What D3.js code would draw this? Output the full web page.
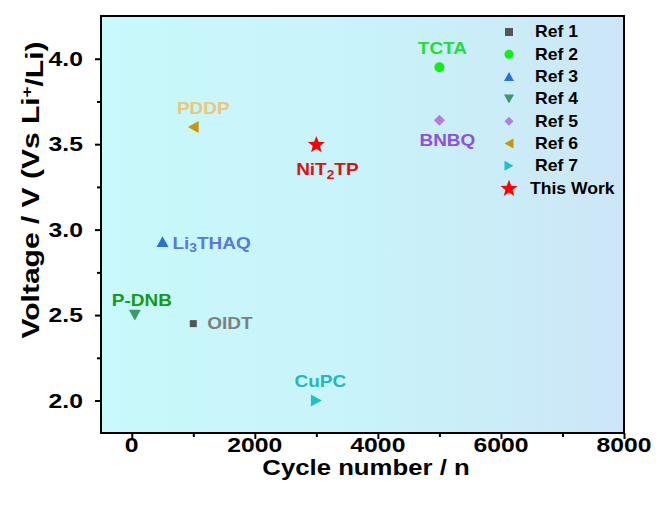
<!DOCTYPE html>
<html><head><meta charset="utf-8">
<script src="https://cdn.jsdelivr.net/npm/d3@7"></script>
<style>
body{margin:0;background:#fff;}
</style></head>
<body><svg id="c" width="659" height="509"></svg>
<script>
// ---- data ----
const refs = ["Ref 1","Ref 2","Ref 3","Ref 4","Ref 5","Ref 6","Ref 7","This Work"];
const materials = ["OIDT","TCTA","Li3THAQ","P-DNB","BNBQ","PDDP","CuPC","NiT2TP"];
const cycles = [1000, 5000, 500, 50, 5000, 1000, 3000, 3000];
const voltages = [2.45, 3.95, 2.93, 2.5, 3.64, 3.6, 2.0, 3.5];
const xTicks = [0, 2000, 4000, 6000, 8000];
const xMinorTicks = [1000, 3000, 5000, 7000];
const yTicks = [2.0, 2.5, 3.0, 3.5, 4.0];
const yMinorTicks = [2.25, 2.75, 3.25, 3.75];

// ---- styles ----
const FONT = "Liberation Sans, Arial, sans-serif";
const markerColors = ["#555555","#11ee11","#2a6fd8","#3a9a6a","#b07fdc","#c8960a","#1fc0c8","#ff0000"];
const labelColors  = ["#7f7f7f","#22dd33","#5a78dd","#159a1a","#9050d8","#ecc680","#22b8bc","#dd1111"];
const symbolTypes  = ["square","circle","up","down","diamond","left","right","star"];
const markerSizes  = [7, 10, 12, 12, 11, 12, 12, 18];
const legendSizes  = [8, 9, 10, 10, 9, 10, 10, 18];
// label pixel offsets [dx, dy, anchor]
const labelOffsets = [[14,-1,"start"],[3,-19,"middle"],[10,1,"start"],[7,-15,"middle"],[8,20,"middle"],[10,-19,"middle"],[4,-20,"middle"],[11,25,"middle"]];

const svg = d3.select("#c");
const m = {l:101, r:624, t:16, b:433};
const x = d3.scaleLinear().domain([-500, 8000]).range([m.l, m.r]);
const y = d3.scaleLinear().domain([1.81, 4.25]).range([m.b, m.t]);

function stretch(sel, sx){
  sel.each(function(){
    const t = d3.select(this);
    const tx = +t.attr("x") || 0, ty = +t.attr("y") || 0;
    t.attr("transform", `translate(${tx},${ty}) scale(${sx},1) translate(${-tx},${-ty})`);
  });
}
function txt(parent){
  return parent.append("text").attr("font-family",FONT).attr("font-weight","bold");
}

const defs = svg.append("defs");
const g = defs.append("linearGradient").attr("id","bg").attr("x1","0").attr("x2","1").attr("y1","0").attr("y2","0");
g.append("stop").attr("offset","0").attr("stop-color","#c8f9fb");
g.append("stop").attr("offset","0.5").attr("stop-color","#c8f3fa");
g.append("stop").attr("offset","1").attr("stop-color","#cde6f7");
svg.append("rect").attr("x",m.l).attr("y",m.t).attr("width",m.r-m.l).attr("height",m.b-m.t).attr("fill","url(#bg)");

function symPath(type, s){
  const h = s/2;
  switch(type){
    case "square": return `M${-h},${-h}H${h}V${h}H${-h}Z`;
    case "circle": return d3.symbol(d3.symbolCircle, Math.PI*h*h)();
    case "up": return `M0,${-h*0.9}L${h},${h*0.9}L${-h},${h*0.9}Z`;
    case "down": return `M0,${h*0.9}L${h},${-h*0.9}L${-h},${-h*0.9}Z`;
    case "left": return `M${-h*0.9},0L${h*0.9},${-h}L${h*0.9},${h}Z`;
    case "right": return `M${h*0.9},0L${-h*0.9},${-h}L${-h*0.9},${h}Z`;
    case "diamond": return `M0,${-h}L${h},0L0,${h}L${-h},0Z`;
    case "star": {
      let p=[]; for(let i=0;i<10;i++){const r=i%2?h*0.42:h; const a=-Math.PI/2+i*Math.PI/5; p.push([r*Math.cos(a), r*Math.sin(a)+h*0.08]);}
      return "M"+p.map(d=>d.join(",")).join("L")+"Z";
    }
  }
}

// axes (tick marks via d3 axis, labels drawn explicitly)
function styleAxis(sel){
  sel.select(".domain").remove();
  sel.selectAll(".tick line").attr("stroke","#000").attr("stroke-width",2);
  sel.selectAll(".tick text").remove();
}
svg.append("g").attr("transform",`translate(0,${m.b})`)
  .call(d3.axisBottom(x).tickValues(xTicks).tickSize(6).tickFormat("")).call(styleAxis);
svg.append("g").attr("transform",`translate(0,${m.b})`)
  .call(d3.axisBottom(x).tickValues(xMinorTicks).tickSize(4).tickFormat("")).call(styleAxis);
svg.append("g").attr("transform",`translate(${m.l},0)`)
  .call(d3.axisLeft(y).tickValues(yTicks).tickSize(6).tickFormat("")).call(styleAxis);
svg.append("g").attr("transform",`translate(${m.l},0)`)
  .call(d3.axisLeft(y).tickValues(yMinorTicks).tickSize(4).tickFormat("")).call(styleAxis);

const fx = d3.format("d"), fy = d3.format(".1f");
const xl = svg.append("g");
xTicks.forEach(v=>{
  txt(xl).attr("x",x(v)).attr("y",m.b+19).attr("text-anchor","middle").attr("font-size","19.5px").attr("fill","#000").text(fx(v)).call(stretch,1.27);
});
const yl = svg.append("g");
yTicks.forEach(v=>{
  txt(yl).attr("x",m.l-18).attr("y",y(v)+7).attr("text-anchor","end").attr("font-size","19.5px").attr("fill","#000").text(fy(v)).call(stretch,1.27);
});

svg.append("rect").attr("x",m.l).attr("y",m.t).attr("width",m.r-m.l).attr("height",m.b-m.t)
  .attr("fill","none").attr("stroke","#000").attr("stroke-width",2);

// titles
txt(svg).attr("x",366).attr("y",475).attr("text-anchor","middle").attr("font-size","22px").attr("fill","#000")
  .text("Cycle number / n").call(stretch,1.17);
const yt = txt(svg).attr("transform",`translate(39,190) rotate(-90) scale(1.25,1)`).attr("text-anchor","middle").attr("font-size","24px").attr("fill","#000");
yt.append("tspan").text("Voltage / V (Vs Li");
yt.append("tspan").attr("dy","-0.45em").attr("font-size","15px").text("+");
yt.append("tspan").attr("dy","0.45em").text("/Li)");

// points
const pts = svg.append("g");
refs.forEach((r,i)=>{
  pts.append("path").attr("d",symPath(symbolTypes[i], markerSizes[i]))
    .attr("transform",`translate(${x(cycles[i])},${y(voltages[i])})`).attr("fill",markerColors[i]);
});

// labels with subscripts
function addLabel(i){
  const [dx,dy,anchor] = labelOffsets[i];
  const t = txt(pts).attr("x",x(cycles[i])+dx).attr("y",y(voltages[i])+dy+6)
    .attr("text-anchor",anchor).attr("fill",labelColors[i]).attr("font-size","16.5px");
  const parts = materials[i].match(/[A-Za-z\-]+|\d+/g);
  parts.forEach(p=>{
    if(/^\d+$/.test(p)){ t.append("tspan").attr("dy","0.3em").attr("font-size","12px").text(p); }
    else { const ts = t.append("tspan").text(p); if (t.selectAll("tspan").size()>1) ts.attr("dy","-0.22em"); }
  });
  stretch(t, 1.15);
}
materials.forEach((mname,i)=>addLabel(i));

// legend
const lg = svg.append("g");
refs.forEach((r,i)=>{
  const yy = 32 + i*22.3;
  lg.append("path").attr("d",symPath(symbolTypes[i], legendSizes[i]))
    .attr("transform",`translate(509,${yy})`).attr("fill",markerColors[i]);
  txt(lg).attr("x", i===7?530:535).attr("y",yy+5.5).attr("font-size","16px").attr("fill","#000").text(r).call(stretch,1.1);
});
</script></body></html>
